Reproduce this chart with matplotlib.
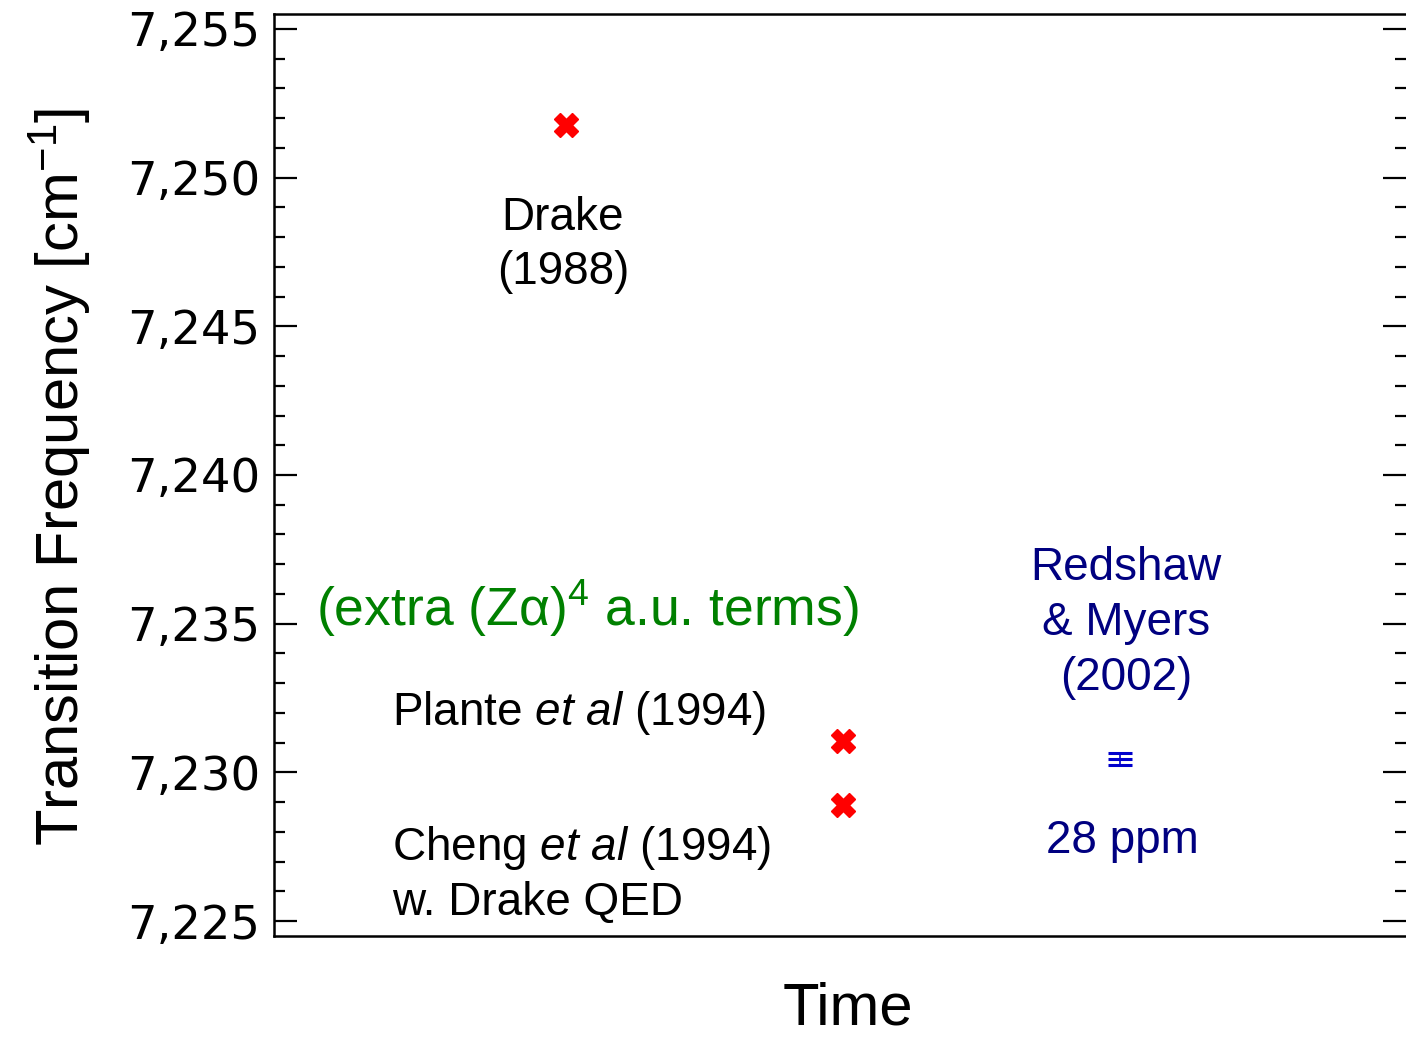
import numpy as np
import matplotlib.pyplot as plt
from matplotlib.ticker import MultipleLocator

plt.rcParams["mathtext.fontset"] = "custom"
plt.rcParams["mathtext.rm"] = "Liberation Sans"
plt.rcParams["mathtext.it"] = "Liberation Sans:italic"

# calculated values (red crosses), ordered along the time axis
calc_x = [1, 2, 2]
calc_freq = [7251.77, 7231.05, 7228.90]

# measurement (blue, with 28 ppm error bar)
meas_x = [3]
meas_freq = [7230.45]
meas_err = [0.20]

yticks = [7225, 7230, 7235, 7240, 7245, 7250, 7255]
ytick_labels = ["7,225", "7,230", "7,235", "7,240", "7,245", "7,250", "7,255"]

fig = plt.figure(figsize=(14.06, 10.38), dpi=100)
ax = fig.add_axes([274 / 1406, 1 - 936 / 1038, 1132 / 1406, 922 / 1038])

ax.plot(calc_x, calc_freq, linestyle="none", marker="X", markersize=17,
        color="red", markeredgecolor="red")
ax.errorbar(meas_x, meas_freq, yerr=meas_err, fmt="_", color="#0000CC",
            markersize=17, markeredgewidth=2.2, elinewidth=1.2,
            capsize=8.5, capthick=2.2)

ax.set_xlim(-0.054, 4.032)
ax.set_ylim(7224.5, 7255.5)
ax.set_xticks([])
ax.set_yticks(yticks)
ax.set_yticklabels(ytick_labels, fontfamily="DejaVu Sans", fontsize=33.5)
ax.yaxis.set_minor_locator(MultipleLocator(1))
ax.tick_params(axis="y", which="both", direction="in", left=True, right=True,
               width=1.6, pad=10)
ax.tick_params(axis="y", which="major", length=16.5)
ax.tick_params(axis="y", which="minor", length=8)
for side in ["left", "top", "bottom"]:
    ax.spines[side].set_linewidth(1.8)
ax.spines["right"].set_visible(False)

txt = dict(fontfamily="Liberation Sans", fontsize=33, ha="center", va="center")
ax.text(0.989, 7247.72, "Drake\n(1988)", linespacing=1.3, **txt)
ax.text(1.078, 7235.5, "(extra (Z\u03b1)$^4$ a.u. terms)", color="#008000",
        fontfamily="Liberation Sans", fontsize=38.5, ha="center", va="center")
ax.text(0.372, 7231.99, r"Plante $\mathit{et\ al}$ (1994)",
        fontfamily="Liberation Sans", fontsize=33, ha="left", va="center")
ax.text(0.372, 7226.56, "Cheng $\\mathit{et\\ al}$ (1994)\nw. Drake QED",
        fontfamily="Liberation Sans", fontsize=33, ha="left", va="center",
        linespacing=1.27)
ax.text(3.022, 7235.02, "Redshaw\n& Myers\n(2002)", color="#000080",
        linespacing=1.32, **txt)
ax.text(3.007, 7227.7, "28 ppm", color="#000080", **txt)

fig.text(60 / 1406, 1 - 477 / 1038, r"Transition Frequency [cm$^{-1}$]",
         rotation=90, ha="center", va="center", fontfamily="Liberation Sans",
         fontsize=43)
fig.text(848 / 1406, 0.001, "Time", ha="center", va="bottom",
         fontfamily="Liberation Sans", fontsize=43)

fig.savefig("out.png", dpi=100)
